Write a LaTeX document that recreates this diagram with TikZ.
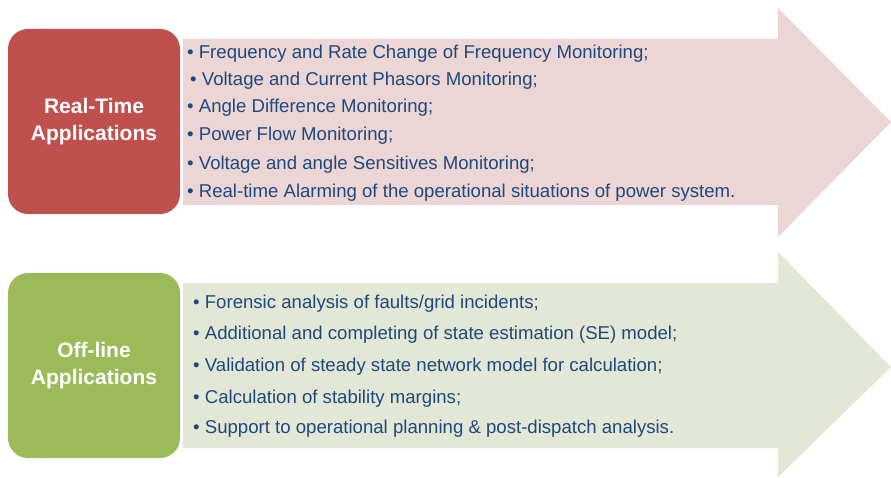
\documentclass[tikz,border=0pt]{standalone}
\usepackage{fontspec}
\setmainfont{Liberation Sans}
\definecolor{rtred}{RGB}{192,80,77}
\definecolor{rtpink}{RGB}{236,213,213}
\definecolor{olgreen}{RGB}{155,187,89}
\definecolor{olpale}{RGB}{227,232,214}
\definecolor{itemblue}{RGB}{31,73,125}
\begin{document}
\begin{tikzpicture}[x=1pt,y=-1pt,
    item/.style={anchor=base west,inner sep=0pt,text=itemblue,font=\fontsize{18.6}{20}\selectfont},
    appbox/.style={rounded corners=20pt,minimum width=172pt,minimum height=185pt,inner sep=0pt,
      text=white,align=center,font=\fontsize{21}{27}\selectfont\bfseries}]
  \useasboundingbox (0,0) rectangle (891,478);
  \fill[rtpink] (183,39) -- (778,39) -- (778,8) -- (891,122) -- (778,237) -- (778,205) -- (183,205) -- cycle;
  \fill[olpale] (183,283) -- (778,283) -- (778,252) -- (891,367) -- (778,477) -- (778,448) -- (183,448) -- cycle;
  \node[appbox,fill=rtred] (realtime) at (94,121.5) {Real-Time\\Applications};
  \node[appbox,fill=olgreen] (offline) at (94,365.5) {Off-line\\Applications};
  \draw
    (187,59) node[item] (rt1) {• Frequency and Rate Change of Frequency Monitoring;}
    (190,86) node[item] (rt2) {• Voltage and Current Phasors Monitoring;}
    (187,113) node[item] (rt3) {• Angle Difference Monitoring;}
    (187,141) node[item] (rt4) {• Power Flow Monitoring;}
    (187,170) node[item] (rt5) {• Voltage and angle Sensitives Monitoring;}
    (187,198) node[item] (rt6) {• Real-time Alarming of the operational situations of power system.};
  \draw
    (193,308) node[item] (ol1) {• Forensic analysis of faults/grid incidents;}
    (193,339) node[item] (ol2) {• Additional and completing of state estimation (SE) model;}
    (193,371) node[item] (ol3) {• Validation of steady state network model for calculation;}
    (193,403) node[item] (ol4) {• Calculation of stability margins;}
    (193,433) node[item] (ol5) {• Support to operational planning \& post-dispatch analysis.};
\end{tikzpicture}
\end{document}
